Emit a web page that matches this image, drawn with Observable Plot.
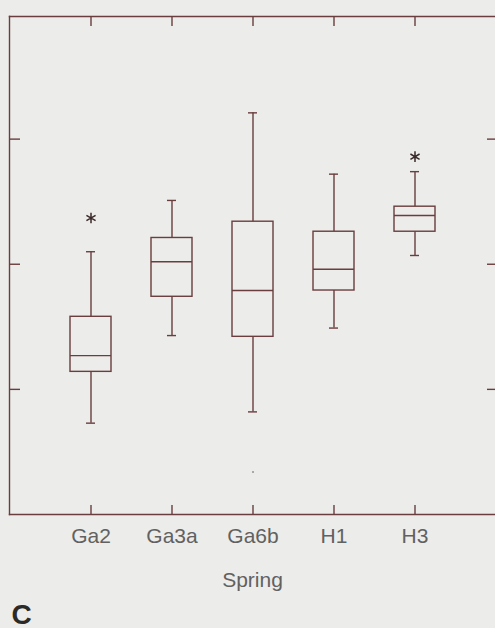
<!DOCTYPE html>
<html>
<head>
<meta charset="utf-8">
<script src="https://cdn.jsdelivr.net/npm/d3@7"></script>
<script src="https://cdn.jsdelivr.net/npm/@observablehq/plot@0.6"></script>
<style>
  html, body { margin: 0; padding: 0; background: #ececeb; }
  svg { display: block; }
</style>
</head>
<body>
<div id="chart"></div>
<script>
// Data (arbitrary y units, unlabelled axis)
const springs     = ["Ga2", "Ga3a", "Ga6b", "H1", "H3"];
const whiskerLow  = [0.73, 1.43, 0.82, 1.49, 2.07];
const q1          = [1.14, 1.74, 1.42, 1.79, 2.26];
const median      = [1.27, 2.02, 1.79, 1.96, 2.39];
const q3          = [1.58, 2.21, 2.34, 2.26, 2.46];
const whiskerHigh = [2.10, 2.51, 3.21, 2.72, 2.74];
const outlierSpring = ["Ga2", "H3"];
const outlierValue  = [2.37, 2.86];
const faintSpring = ["Ga6b"];
const faintValue  = [0.34];
const yTicks = [1, 2, 3];

const table = springs.map((s, i) => ({
  spring: s, low: whiskerLow[i], q1: q1[i], median: median[i], q3: q3[i], high: whiskerHigh[i]
}));
const outliers = outlierSpring.map((s, i) => ({spring: s, value: outlierValue[i]}));
const faint = faintSpring.map((s, i) => ({spring: s, value: faintValue[i]}));

const ink = "#6a3e3e";
const textInk = "#616161";
const sw = 1.4;

const chart = Plot.plot({
  width: 495,
  height: 628,
  marginLeft: 9,
  marginRight: 0,
  marginTop: 16,
  marginBottom: 114,
  style: {fontFamily: "'Liberation Sans', Arial, sans-serif", background: "#ececeb"},
  x: {type: "band", domain: springs, paddingInner: 0.494, paddingOuter: 0.747, axis: null, label: null},
  y: {domain: [0, 3.98], axis: null},
  marks: [
    Plot.frame({anchor: "left", stroke: ink, strokeWidth: sw}),
    Plot.frame({anchor: "top", stroke: ink, strokeWidth: sw}),
    Plot.frame({anchor: "bottom", stroke: ink, strokeWidth: sw}),
    // inward ticks
    Plot.tickX(springs, {x: d => d, insetBottom: 488, stroke: ink, strokeWidth: sw}),
    Plot.tickX(springs, {x: d => d, insetTop: 489, stroke: ink, strokeWidth: sw}),
    Plot.tickY(yTicks, {y: d => d, insetRight: 475, stroke: ink, strokeWidth: sw}),
    Plot.tickY(yTicks, {y: d => d, insetLeft: 478, stroke: ink, strokeWidth: sw}),
    // whiskers
    Plot.ruleX(table, {x: "spring", y1: "low", y2: "q1", stroke: ink, strokeWidth: sw}),
    Plot.ruleX(table, {x: "spring", y1: "q3", y2: "high", stroke: ink, strokeWidth: sw}),
    Plot.tickY(table, {x: "spring", y: "low", insetLeft: 16, insetRight: 16, stroke: ink, strokeWidth: sw}),
    Plot.tickY(table, {x: "spring", y: "high", insetLeft: 16, insetRight: 16, stroke: ink, strokeWidth: sw}),
    // boxes
    Plot.barY(table, {x: "spring", y1: "q1", y2: "q3", fill: "none", stroke: ink, strokeWidth: sw}),
    Plot.tickY(table, {x: "spring", y: "median", stroke: ink, strokeWidth: sw}),
    // outliers
    Plot.dot(outliers, {x: "spring", y: "value", symbol: "asterisk", r: 5, stroke: "#3a2a2a", strokeWidth: 1.5}),
    Plot.dot(faint, {x: "spring", y: "value", r: 0.8, fill: "#555", stroke: "none"}),
    // axis labels
    Plot.axisX({tickSize: 0, tickPadding: 14, fontSize: 21, fill: textInk, fontWeight: 300, label: null}),
    Plot.text(["Spring"], {frameAnchor: "bottom", dy: 66, lineAnchor: "middle", fontSize: 21, fill: textInk, fontWeight: 300}),
    Plot.text(["C"], {frameAnchor: "bottom-left", dx: 2, dy: 109, lineAnchor: "bottom", textAnchor: "start", fontSize: 28, fontWeight: "bold", fill: "#2a2a2a"})
  ]
});
document.getElementById("chart").append(chart);
</script>
</body>
</html>
